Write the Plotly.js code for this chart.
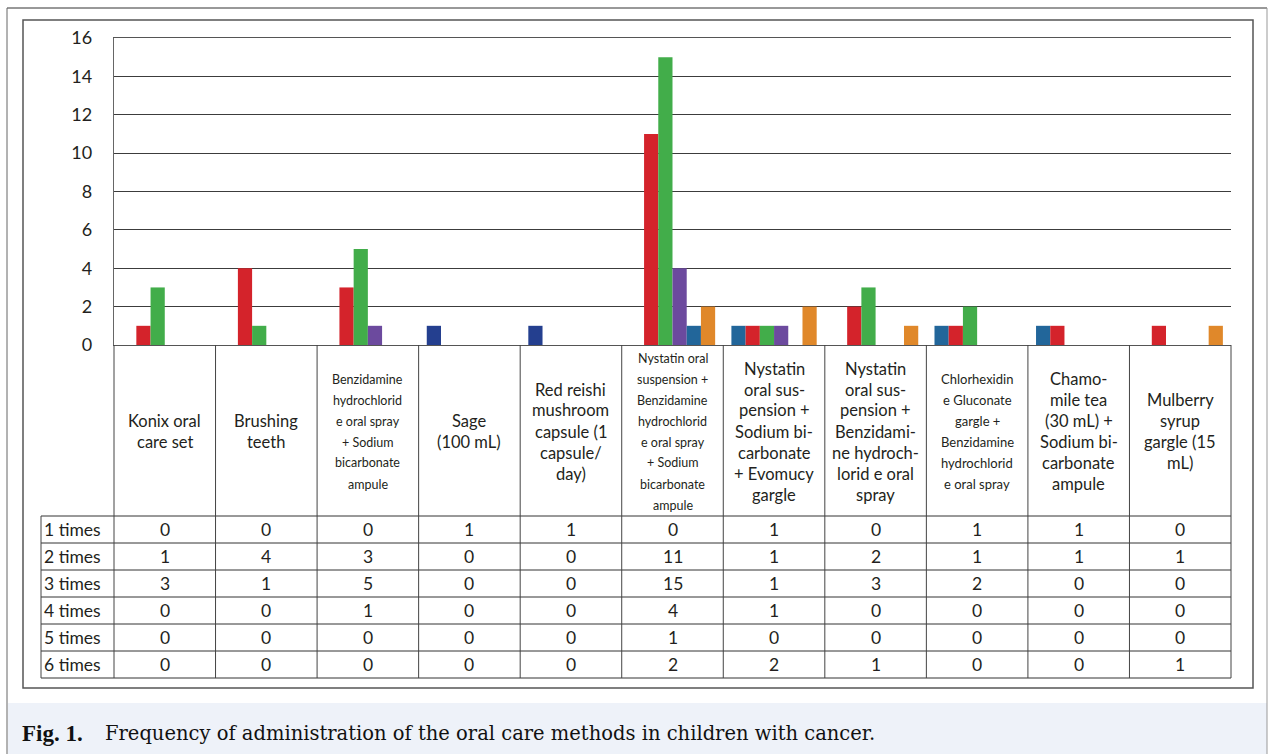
<!DOCTYPE html>
<html><head><meta charset="utf-8">
<script src="https://cdn.plot.ly/plotly-3.0.1.min.js"></script>
<style>html,body{margin:0;padding:0;background:#fff}#chart{width:1269px;height:754px}</style>
</head><body><div id="chart"></div>
<script>
// ---------- DATA ----------
const categories = [
  'Konix oral care set', 'Brushing teeth',
  'Benzidamine hydrochloride oral spray + Sodium bicarbonate ampule',
  'Sage (100 mL)', 'Red reishi mushroom capsule (1 capsule/day)',
  'Nystatin oral suspension + Benzidamine hydrochloride oral spray + Sodium bicarbonate ampule',
  'Nystatin oral suspension + Sodium bicarbonate + Evomucy gargle',
  'Nystatin oral suspension + Benzidamine hydrochloride oral spray',
  'Chlorhexidine Gluconate gargle + Benzidamine hydrochloride oral spray',
  'Chamomile tea (30 mL) + Sodium bicarbonate ampule',
  'Mulberry syrup gargle (15 mL)'
];
const categoryLabels = [
  'Konix oral<br>care set',
  'Brushing<br>teeth',
  'Benzidamine<br>hydrochlorid<br>e oral spray<br>+ Sodium<br>bicarbonate<br>ampule',
  'Sage<br>(100 mL)',
  'Red reishi<br>mushroom<br>capsule (1<br>capsule/<br>day)',
  'Nystatin oral<br>suspension +<br>Benzidamine<br>hydrochlorid<br>e oral spray<br>+ Sodium<br>bicarbonate<br>ampule',
  'Nystatin<br>oral sus-<br>pension +<br>Sodium bi-<br>carbonate<br>+ Evomucy<br>gargle',
  'Nystatin<br>oral sus-<br>pension +<br>Benzidami-<br>ne hydroch-<br>lorid e oral<br>spray',
  'Chlorhexidin<br>e Gluconate<br>gargle +<br>Benzidamine<br>hydrochlorid<br>e oral spray',
  'Chamo-<br>mile tea<br>(30 mL) +<br>Sodium bi-<br>carbonate<br>ampule',
  'Mulberry<br>syrup<br>gargle (15<br>mL)'
];
const seriesNames = ['1 times', '2 times', '3 times', '4 times', '5 times', '6 times'];
const times1 = [0, 0, 0, 1, 1, 0, 1, 0, 1, 1, 0];
const times2 = [1, 4, 3, 0, 0, 11, 1, 2, 1, 1, 1];
const times3 = [3, 1, 5, 0, 0, 15, 1, 3, 2, 0, 0];
const times4 = [0, 0, 1, 0, 0, 4, 1, 0, 0, 0, 0];
const times5 = [0, 0, 0, 0, 0, 1, 0, 0, 0, 0, 0];
const times6 = [0, 0, 0, 0, 0, 2, 2, 1, 0, 0, 1];
const yTicks = [0, 2, 4, 6, 8, 10, 12, 14, 16];

// ---------- STYLE ----------
const NAVY = '#243f8f', TEAL = '#22669a', RED = '#d4232b', GREEN = '#42ad4a', PURPLE = '#6c4a9e', ORANGE = '#e0882a';
const times1Colors = categories.map((c, i) => (i === 3 || i === 4) ? NAVY : TEAL);
const seriesColors = [times1Colors, RED, GREEN, PURPLE, TEAL, ORANGE];
const labelSizes = [16.5, 16.5, 12.5, 16.5, 16.5, 12.5, 16.5, 16.5, 13, 16.5, 16.5];
const TXT = '#231f20';
const FONT = 'Lato, "Open Sans", sans-serif';

// ---------- GEOMETRY HELPERS ----------
const W = 1269, H = 754, L = 114, R = 1231, T = 38, B = 0;
const pw = R - L, ph = H - T - B;
const X = p => (p - L) / pw;
const Y = p => (H - B - p) / ph;
const AXIS_BOTTOM = 345, HEADER_BOTTOM = 516, ROW_H = 27, LABEL_LEFT = 41;
const colX = i => L + i * pw / categories.length;

const allSeries = [times1, times2, times3, times4, times5, times6];
const traces = allSeries.map((vals, s) => ({
  type: 'bar', name: seriesNames[s], x: categories, y: vals,
  marker: {color: seriesColors[s], line: {width: 0}},
  hoverinfo: 'x+y+name'
}));

const shapes = [];
const annotations = [];
const line = (x0, y0, x1, y1, color, width) => shapes.push({type: 'line', xref: 'paper', yref: 'paper',
  x0: X(x0), y0: Y(y0), x1: X(x1), y1: Y(y1), line: {color: color, width: width}, layer: 'above'});

// caption background + frames
shapes.push({type: 'rect', xref: 'paper', yref: 'paper', x0: X(8), x1: X(1267), y0: Y(703), y1: Y(754),
  fillcolor: '#eef2f9', line: {width: 0}, layer: 'below'});
line(7, 8, 1267, 8, '#333', 1);
line(7, 8, 7, 754, '#666', 1);
line(1267, 8, 1267, 754, '#999', 1);
shapes.push({type: 'rect', xref: 'paper', yref: 'paper', x0: X(23), x1: X(1253), y0: Y(20), y1: Y(688),
  line: {color: '#555', width: 1.5}, layer: 'below'});

// table lines
const nRows = seriesNames.length;
const tableBottom = HEADER_BOTTOM + nRows * ROW_H;
for (let r = 0; r <= nRows; r++) {
  const y = HEADER_BOTTOM + r * ROW_H;
  line(LABEL_LEFT, y, R, y, '#333', 1);
}
line(LABEL_LEFT, HEADER_BOTTOM, LABEL_LEFT, tableBottom, '#444', 1);
for (let i = 0; i <= categories.length; i++) {
  line(colX(i), AXIS_BOTTOM, colX(i), tableBottom, '#444', 1);
}

// category labels (one annotation per line, 21px line pitch)
const headerMid = (AXIS_BOTTOM + HEADER_BOTTOM) / 2 + 1;
categoryLabels.forEach((lab, i) => {
  const parts = lab.split('<br>');
  parts.forEach((t, k) => {
    annotations.push({xref: 'x', yref: 'paper', x: categories[i], y: Y(headerMid + (k - (parts.length - 1) / 2) * 21),
      text: t, showarrow: false, xanchor: 'center', yanchor: 'middle',
      font: {family: FONT, size: labelSizes[i], color: TXT}});
  });
});

// row labels and values
allSeries.forEach((vals, r) => {
  const yc = HEADER_BOTTOM + r * ROW_H + ROW_H / 2;
  annotations.push({xref: 'paper', yref: 'paper', x: X(LABEL_LEFT + 1), y: Y(yc), text: seriesNames[r],
    showarrow: false, xanchor: 'left', yanchor: 'middle', font: {family: FONT, size: 17.5, color: TXT}});
  vals.forEach((v, i) => {
    annotations.push({xref: 'x', yref: 'paper', x: categories[i], y: Y(yc), text: String(v),
      showarrow: false, xanchor: 'center', yanchor: 'middle', font: {family: FONT, size: 17.5, color: TXT}});
  });
});

// caption
annotations.push({xref: 'paper', yref: 'paper', x: X(20), y: Y(733), text: '<b>Fig. 1.</b>', showarrow: false,
  xanchor: 'left', yanchor: 'middle', font: {family: '"Liberation Serif", serif', size: 23, color: '#111'}});
annotations.push({xref: 'paper', yref: 'paper', x: X(103), y: Y(733),
  text: 'Frequency of administration of the oral care methods in children with cancer.', showarrow: false,
  xanchor: 'left', yanchor: 'middle', font: {family: '"DejaVu Serif", serif', size: 19.5, color: '#111'}});

const layout = {
  width: W, height: H,
  margin: {l: L, r: W - R, t: T, b: B, pad: 0},
  paper_bgcolor: '#fff', plot_bgcolor: '#fff',
  showlegend: false,
  barmode: 'group', bargap: 0.16, bargroupgap: 0,
  xaxis: {type: 'category', categoryorder: 'array', categoryarray: categories,
    showticklabels: false, ticks: '', showgrid: false, zeroline: false,
    showline: true, mirror: true, linecolor: '#555', linewidth: 1.2, fixedrange: true},
  yaxis: {domain: [Y(AXIS_BOTTOM), 1], range: [0, 16], tickvals: yTicks, ticktext: yTicks.map(String),
    showgrid: true, gridcolor: '#3c3c3c', gridwidth: 1, zeroline: false,
    showline: true, linecolor: '#666', linewidth: 1.2, ticks: '', ticklabelstandoff: 17,
    tickfont: {family: FONT, size: 18, color: TXT}, fixedrange: true},
  shapes: shapes,
  annotations: annotations
};

Plotly.newPlot('chart', traces, layout, {displayModeBar: false, staticPlot: true});
</script>
</body></html>
